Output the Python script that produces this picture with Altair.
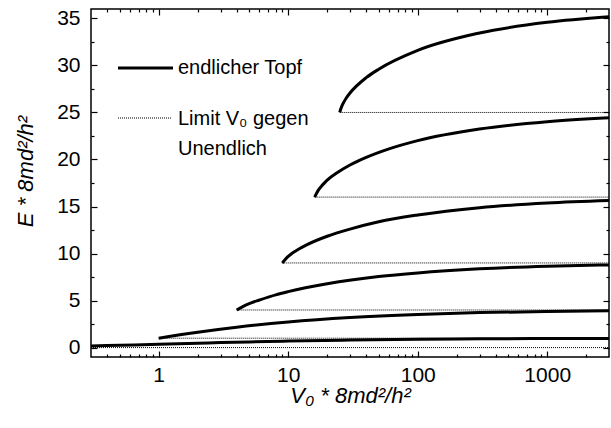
import altair as alt
import pandas as pd

# Bound-state energies of the finite square well vs. well depth
# (both in units of h^2 / (8 m d^2)), one series per level.
V0_LEVEL1 = [0.3, 0.5, 1, 2, 3, 5, 10, 30, 100, 300, 1000, 3000]
E_LEVEL1 = [0.18, 0.25, 0.35, 0.46, 0.53, 0.60, 0.69, 0.80, 0.88, 0.93, 0.96, 0.98]

V0_LEVEL2 = [1, 1.2, 1.5, 2, 4, 10, 30, 100, 300, 1000, 3000]
E_LEVEL2 = [1.0, 1.18, 1.39, 1.64, 2.17, 2.73, 3.20, 3.53, 3.72, 3.84, 3.91]

V0_LEVEL3 = [4, 4.5, 5, 6, 8, 10, 20, 50, 100, 300, 1000, 3000]
E_LEVEL3 = [4.0, 4.39, 4.68, 5.06, 5.61, 5.95, 6.78, 7.55, 7.94, 8.37, 8.65, 8.79]

V0_LEVEL4 = [9, 10, 11, 12, 14, 20, 30, 50, 100, 300, 1000, 3000]
E_LEVEL4 = [9.0, 9.69, 10.13, 10.45, 10.95, 11.84, 12.60, 13.38, 14.10, 14.88, 15.37, 15.63]

V0_LEVEL5 = [16, 17, 18, 19, 20, 24, 30, 40, 60, 100, 300, 1000, 3000]
E_LEVEL5 = [16.0, 16.69, 17.14, 17.49, 17.80, 18.61, 19.41, 20.22, 21.13, 22.01, 23.24, 24.02, 24.43]

V0_LEVEL6 = [25, 25.3, 26, 27, 28, 30, 40, 50, 100, 300, 1000, 3000]
E_LEVEL6 = [25.0, 25.26, 25.70, 26.15, 26.51, 27.07, 28.70, 29.60, 31.60, 33.45, 34.58, 35.17]

# Infinite-well limits (horizontal dotted lines) and where each one starts
LIMIT_E = [0, 1, 4, 9, 16, 25]
LIMIT_START = [0.3, 1, 4, 9, 16, 25]
V0_END = 3000

X_MAJOR = [1, 10, 100, 1000]
X_MINOR = [0.4, 0.5, 0.6, 0.7, 0.8, 0.9,
           2, 3, 4, 5, 6, 7, 8, 9,
           20, 30, 40, 50, 60, 70, 80, 90,
           200, 300, 400, 500, 600, 700, 800, 900, 2000]
Y_MAJOR = [0, 5, 10, 15, 20, 25, 30, 35]
Y_MINOR = [2.5, 7.5, 12.5, 17.5, 22.5, 27.5, 32.5]

LEGEND_LABELS = ["endlicher Topf", "Limit V\u2080 gegen", "Unendlich"]

levels = [
    (V0_LEVEL1, E_LEVEL1), (V0_LEVEL2, E_LEVEL2), (V0_LEVEL3, E_LEVEL3),
    (V0_LEVEL4, E_LEVEL4), (V0_LEVEL5, E_LEVEL5), (V0_LEVEL6, E_LEVEL6),
]
curve_rows = []
for i, (vs, es) in enumerate(levels, start=1):
    for v, e in zip(vs, es):
        curve_rows.append({"V0": v, "E": e, "level": i})
curves_df = pd.DataFrame(curve_rows)

limit_rows = []
for i, (e, start) in enumerate(zip(LIMIT_E, LIMIT_START)):
    limit_rows.append({"V0": start, "E": e, "limit": i})
    limit_rows.append({"V0": V0_END, "E": e, "limit": i})
limits_df = pd.DataFrame(limit_rows)

FONT = "Liberation Sans"
W, H = 518, 348

xscale = alt.Scale(type="log", domain=[0.3, 3000], nice=False)
yscale = alt.Scale(domain=[-1, 36], nice=False, zero=False)


def tick_axis(orient, values, size):
    # tick-only axis pulled inside the frame so the ticks point inward
    return alt.Axis(orient=orient, values=values, ticks=True, tickSize=size,
                    offset=-size, tickColor="black", tickWidth=1.2,
                    labels=False, domain=False, grid=False, title=None)


main_x = alt.Axis(orient="bottom", values=X_MAJOR, format="d", ticks=False,
                  domain=False, grid=False, labelFont=FONT, labelFontSize=21,
                  labelColor="black", labelPadding=7,
                  title="V\u2080 * 8md\u00b2/h\u00b2", titleFont=FONT,
                  titleFontSize=22, titleFontStyle="italic",
                  titleFontWeight="normal", titleColor="black",
                  titleBaseline="alphabetic", titleX=W / 2, titleY=45)
main_y = alt.Axis(orient="left", values=Y_MAJOR, format="d", ticks=False,
                  domain=False, grid=False, labelFont=FONT, labelFontSize=21,
                  labelColor="black", labelPadding=11,
                  title="E * 8md\u00b2/h\u00b2", titleFont=FONT,
                  titleFontSize=22, titleFontStyle="italic",
                  titleFontWeight="normal", titleColor="black",
                  titleBaseline="alphabetic", titleAngle=-90,
                  titleX=-59, titleY=H / 2 - 12)


def limit_layer(xaxis, yaxis, opacity):
    return alt.Chart(limits_df).mark_line(
        color="black", strokeWidth=1, strokeDash=[1, 1], opacity=opacity,
        clip=True,
    ).encode(
        x=alt.X("V0:Q", scale=xscale, axis=xaxis),
        y=alt.Y("E:Q", scale=yscale, axis=yaxis),
        detail="limit:N",
    )


curves = alt.Chart(curves_df).mark_line(
    color="black", strokeWidth=3, interpolate="monotone", clip=True,
).encode(
    x=alt.X("V0:Q", scale=xscale, axis=main_x),
    y=alt.Y("E:Q", scale=yscale, axis=main_y),
    detail="level:N",
)

limits = limit_layer(tick_axis("bottom", X_MAJOR, 6), tick_axis("left", Y_MAJOR, 6), 1)
minor_bl = limit_layer(tick_axis("bottom", X_MINOR, 3), tick_axis("left", Y_MINOR, 3), 0)
major_tr = limit_layer(tick_axis("top", X_MAJOR, 6), tick_axis("right", Y_MAJOR, 6), 0)
minor_tr = limit_layer(tick_axis("top", X_MINOR, 3), tick_axis("right", Y_MINOR, 3), 0)

# Legend drawn inside the plot area
leg_solid = alt.Chart(pd.DataFrame({"k": [0]})).mark_rule(
    color="black", strokeWidth=3
).encode(x=alt.value(27), x2=alt.value(82), y=alt.value(59))
leg_dotted = alt.Chart(pd.DataFrame({"k": [0]})).mark_rule(
    color="black", strokeWidth=1, strokeDash=[1, 1]
).encode(x=alt.value(27), x2=alt.value(81), y=alt.value(109))


def legend_text(label, ypix):
    return alt.Chart(pd.DataFrame({"label": [label]})).mark_text(
        align="left", baseline="alphabetic", font=FONT, fontSize=20,
        color="black",
    ).encode(x=alt.value(87), y=alt.value(ypix), text="label:N")


chart = alt.layer(
    curves, limits, minor_bl, major_tr, minor_tr,
    leg_solid, leg_dotted,
    legend_text(LEGEND_LABELS[0], 65),
    legend_text(LEGEND_LABELS[1], 116),
    legend_text(LEGEND_LABELS[2], 146),
).resolve_axis(
    x="independent", y="independent"
).properties(
    width=W, height=H,
    autosize=alt.AutoSizeParams(type="none"),
    padding={"left": 91, "top": 9, "right": 2, "bottom": 71},
    background="white",
).configure_view(
    stroke="black", strokeWidth=1.5,
)

chart.save("out.html", embed_options={"renderer": "svg", "actions": False})
